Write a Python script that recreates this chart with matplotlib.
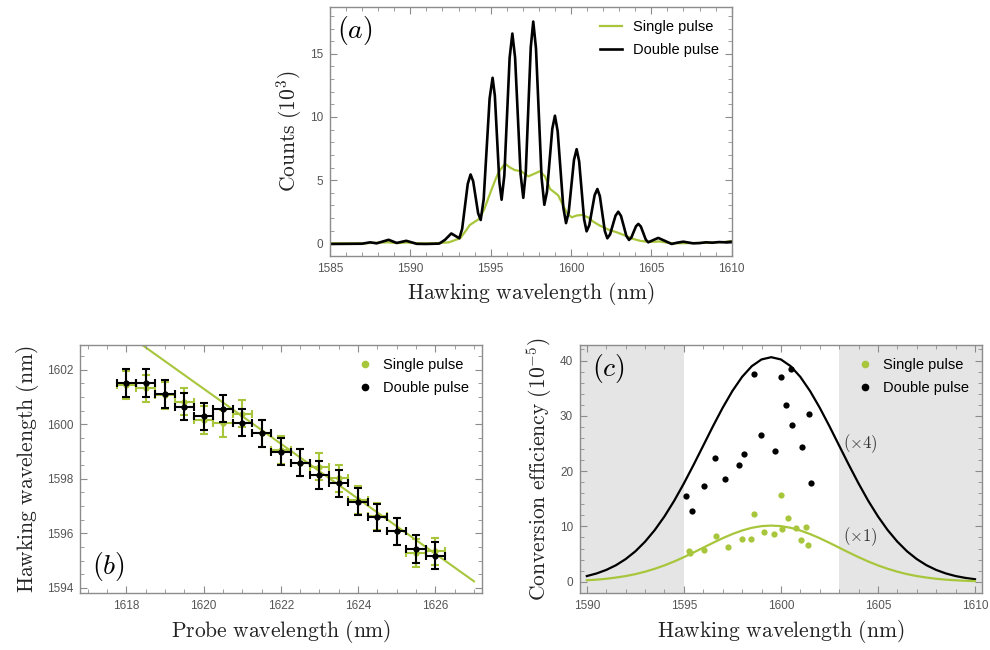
import numpy as np
import matplotlib
matplotlib.use("Agg")
import matplotlib.pyplot as plt
from matplotlib.ticker import MultipleLocator
from matplotlib.lines import Line2D

plt.rcParams['mathtext.fontset'] = 'cm'
plt.rcParams['font.family'] = ['Liberation Sans', 'DejaVu Sans']

GREEN = '#a8c63c'
SPINE = '#8c8c8c'
TICKLAB = '#555555'

# (a) spectra, Hawking wavelength (nm) vs counts (10^3)
double_x = [1585.0, 1587.0, 1587.5, 1587.9, 1588.65, 1589.15, 1589.75, 1590.4, 1591.0, 1591.8,
            1592.15, 1592.55, 1593.05, 1593.225, 1593.4, 1593.575, 1593.75, 1593.91, 1594.065, 1594.22,
            1594.38, 1594.565, 1594.75, 1594.935, 1595.12, 1595.26, 1595.40, 1595.54, 1595.68, 1595.85,
            1596.015, 1596.18, 1596.35, 1596.52, 1596.69, 1596.86, 1597.03, 1597.185, 1597.34, 1597.495,
            1597.65, 1597.82, 1597.995, 1598.17, 1598.34, 1598.505, 1598.67, 1598.835, 1599.0, 1599.17,
            1599.345, 1599.52, 1599.69, 1599.855, 1600.02, 1600.185, 1600.35, 1600.505, 1600.66, 1600.815,
            1600.97, 1601.14, 1601.305, 1601.47, 1601.64, 1601.795, 1601.95, 1602.105, 1602.26, 1602.43,
            1602.6, 1602.77, 1602.94, 1603.11, 1603.275, 1603.44, 1603.61, 1603.755, 1603.9, 1604.045,
            1604.19, 1604.345, 1604.5, 1604.655, 1604.81, 1605.12, 1605.43, 1605.85, 1606.26, 1606.6,
            1606.99, 1607.6, 1608.0, 1608.4, 1608.8, 1609.2, 1609.6, 1610.0]
double_y = [-0.05, -0.03, 0.08, 0.0, 0.28, 0.03, 0.2, -0.04, -0.05, -0.02,
            0.27, 0.78, 0.4, 1.14, 2.93, 4.71, 5.45, 4.92, 3.65, 2.38,
            1.85, 3.49, 7.48, 11.46, 13.1, 11.69, 8.28, 4.86, 3.45, 5.37,
            10.03, 14.68, 16.6, 14.7, 10.1, 5.5, 3.6, 5.64, 10.58, 15.51,
            17.55, 15.43, 10.3, 5.17, 3.05, 4.08, 6.58, 9.07, 10.1, 8.86,
            5.85, 2.84, 1.6, 2.45, 4.53, 6.6, 7.45, 6.5, 4.2, 1.9,
            0.95, 1.44, 2.63, 3.81, 4.3, 3.73, 2.35, 0.97, 0.4, 0.71,
            1.45, 2.19, 2.5, 2.17, 1.39, 0.6, 0.27, 0.46, 0.91, 1.35,
            1.54, 1.33, 0.81, 0.29, 0.08, 0.26, 0.43, 0.19, -0.05, 0.05,
            0.13, 0.0, 0.02, 0.08, 0.05, 0.1, 0.08, 0.13]

single_x = [1585.0, 1587.0, 1588.6, 1589.2, 1589.8, 1590.5, 1591.5, 1592.4, 1593.1, 1593.4,
            1593.7, 1594.3, 1594.6, 1594.95, 1595.27, 1595.5, 1595.9, 1596.2, 1596.5, 1596.9,
            1597.35, 1597.7, 1598.05, 1598.38, 1598.7, 1599.2, 1599.55, 1599.8, 1600.05, 1600.35,
            1600.7, 1601.07, 1601.4, 1601.8, 1602.3, 1602.85, 1603.4, 1603.87, 1604.3, 1604.7,
            1605.1, 1605.5, 1606.0, 1606.4, 1607.5, 1608.5, 1609.5, 1610.0]
single_y = [0.0, 0.0, 0.08, 0.02, 0.07, 0.0, 0.0, 0.08, 0.4, 0.9,
            1.45, 1.95, 2.7, 3.9, 4.96, 5.65, 6.3, 6.0, 5.8, 5.7,
            5.3, 5.5, 5.7, 5.3, 4.3, 3.8, 2.9, 2.3, 2.06, 2.2,
            2.25, 2.05, 1.7, 1.4, 1.1, 0.87, 0.6, 0.35, 0.2, 0.13,
            0.12, 0.15, 0.05, 0.0, 0.02, 0.05, 0.1, 0.17]

# (b) probe vs Hawking wavelength
probe = [1618.0, 1618.5, 1619.0, 1619.5, 1620.0, 1620.5, 1621.0, 1621.5, 1622.0,
         1622.5, 1623.0, 1623.5, 1624.0, 1624.5, 1625.0, 1625.5, 1626.0]
hw_single = [1601.43, 1601.31, 1601.06, 1600.82, 1600.15, 1600.03, 1600.39, 1599.66, 1599.05,
             1598.59, 1598.44, 1598.02, 1597.22, 1596.62, 1596.07, 1595.28, 1595.34]
hw_double = [1601.51, 1601.51, 1601.10, 1600.64, 1600.29, 1600.57, 1600.05, 1599.66, 1598.99,
             1598.59, 1598.14, 1597.83, 1597.16, 1596.58, 1596.07, 1595.42, 1595.18]
probe_err = 0.25
hw_err = 0.5
fit_x = [1617.5, 1627.0]
fit_y = [1603.82, 1594.24]

# (c) conversion efficiency (10^-5)
eff_single_x = [1595.24, 1595.32, 1596.06, 1596.63, 1597.28, 1597.98, 1598.48, 1598.60, 1599.12,
                1599.63, 1599.99, 1600.08, 1600.39, 1600.76, 1601.02, 1601.28, 1601.40]
eff_single_y = [5.55, 5.25, 5.73, 8.2, 6.33, 7.72, 7.72, 12.19, 9.05,
                8.57, 15.75, 9.53, 11.52, 9.65, 7.54, 9.95, 6.58]
eff_double_x = [1595.12, 1595.44, 1596.06, 1596.58, 1597.14, 1597.86, 1598.10, 1598.62, 1598.98,
                1599.70, 1599.99, 1600.27, 1600.51, 1600.58, 1601.09, 1601.45, 1601.54]
eff_double_y = [15.5, 12.85, 17.3, 22.3, 18.6, 21.1, 23.1, 37.6, 26.5,
                23.6, 37.0, 31.9, 38.4, 28.3, 24.3, 30.3, 17.8]
model_x = [1590.0 + 0.5 * i for i in range(41)]
model_x4 = [1.02, 1.49, 2.13, 2.98, 4.09, 5.49, 7.24, 9.34, 11.81, 14.63, 17.77, 21.13, 24.62, 28.12,
            31.46, 34.49, 37.04, 38.98, 40.19, 40.6, 40.19, 38.98, 37.04, 34.49, 31.46, 28.12, 24.62,
            21.13, 17.77, 14.63, 11.81, 9.34, 7.24, 5.49, 4.09, 2.98, 2.13, 1.49, 1.02, 0.69, 0.45]
model_x1 = [0.26, 0.37, 0.53, 0.75, 1.02, 1.37, 1.81, 2.34, 2.95, 3.66, 4.44, 5.28, 6.16, 7.03,
            7.87, 8.62, 9.26, 9.75, 10.05, 10.15, 10.05, 9.75, 9.26, 8.62, 7.87, 7.03, 6.16,
            5.28, 4.44, 3.66, 2.95, 2.34, 1.81, 1.37, 1.02, 0.75, 0.53, 0.37, 0.26, 0.17, 0.11]
shade_lo = 1595
shade_hi = 1603


def style_axes(ax, xmaj, xmin, ymaj, ymin):
	for s in ax.spines.values():
		s.set_color(SPINE)
		s.set_linewidth(1.0)
	ax.xaxis.set_major_locator(MultipleLocator(xmaj))
	ax.xaxis.set_minor_locator(MultipleLocator(xmin))
	ax.yaxis.set_major_locator(MultipleLocator(ymaj))
	ax.yaxis.set_minor_locator(MultipleLocator(ymin))
	ax.tick_params(which='both', direction='in', top=True, right=True,
	               color=SPINE, labelcolor=TICKLAB, labelsize=8.5, pad=5)
	ax.tick_params(which='major', length=5, width=0.8)
	ax.tick_params(which='minor', length=3, width=0.6)


def rm(s):
	return r'$\mathrm{' + s.replace(' ', r'\ ') + '}$'


legend_kw = dict(frameon=False, fontsize=10.5, handletextpad=0.7, labelspacing=0.6, borderaxespad=0.5)

fig = plt.figure(figsize=(9.9, 6.5), dpi=100)

# ---- (a)
ax = fig.add_axes([0.3333, 0.6062, 0.4058, 0.383])
ax.plot(single_x, single_y, color=GREEN, lw=1.6, label='Single pulse', solid_joinstyle='round')
ax.plot(double_x, double_y, color='black', lw=1.9, label='Double pulse', solid_joinstyle='round')
ax.set_xlim(1585, 1610)
ax.set_ylim(-1, 18.7)
style_axes(ax, 5, 1, 5, 1)
ax.set_xlabel(rm('Hawking wavelength (nm)'), fontsize=15.5, color='#222222')
ax.set_ylabel(r'$\mathrm{Counts\ (10^3)}$', fontsize=15.5, color='#222222')
ax.text(0.018, 0.97, r'$(a)$', transform=ax.transAxes, fontsize=20, va='top', ha='left')
ax.legend(loc='upper right', handlelength=1.55, **legend_kw)

# ---- (b)
ax = fig.add_axes([0.0808, 0.0872, 0.4058, 0.382])
ax.plot(fit_x, fit_y, color=GREEN, lw=1.5, zorder=1)
ax.errorbar(probe, hw_single, xerr=probe_err, yerr=hw_err, fmt='o', color=GREEN, ms=3.5,
            capsize=3, elinewidth=1.5, capthick=1.5, zorder=2)
ax.errorbar(probe, hw_double, xerr=probe_err, yerr=hw_err, fmt='o', color='black', ms=3.5,
            capsize=3, elinewidth=1.5, capthick=1.5, zorder=3)
ax.set_xlim(1616.8, 1627.2)
ax.set_ylim(1593.8, 1602.9)
style_axes(ax, 2, 0.5, 2, 0.5)
ax.set_xlabel(rm('Probe wavelength (nm)'), fontsize=15.5, color='#222222')
ax.set_ylabel(rm('Hawking wavelength (nm)'), fontsize=15.5, color='#222222')
ax.text(0.03, 0.04, r'$(b)$', transform=ax.transAxes, fontsize=20, va='bottom', ha='left')
handles = [Line2D([], [], ls='none', marker='o', ms=4.5, color=GREEN),
           Line2D([], [], ls='none', marker='o', ms=4.5, color='black')]
ax.legend(handles, ['Single pulse', 'Double pulse'], loc='upper right', handlelength=1.0, **legend_kw)

# ---- (c)
ax = fig.add_axes([0.5859, 0.0872, 0.4058, 0.382])
ax.set_xlim(1589.65, 1610.35)
ax.set_ylim(-2.1, 42.8)
ax.axvspan(1589.65, shade_lo, color='#e5e5e5', lw=0, zorder=0)
ax.axvspan(shade_hi, 1610.35, color='#e5e5e5', lw=0, zorder=0)
ax.plot(model_x, model_x4, color='black', lw=1.6)
ax.plot(model_x, model_x1, color=GREEN, lw=1.6)
ax.plot(eff_single_x, eff_single_y, 'o', color=GREEN, ms=4.5, mec='none')
ax.plot(eff_double_x, eff_double_y, 'o', color='black', ms=4.5, mec='none')
style_axes(ax, 5, 1, 10, 2)
ax.set_xlabel(rm('Hawking wavelength (nm)'), fontsize=15.5, color='#222222')
ax.set_ylabel(r'$\mathrm{Conversion\ efficiency\ (10^{-5})}$', fontsize=15.5, color='#222222')
ax.text(0.03, 0.97, r'$(c)$', transform=ax.transAxes, fontsize=20, va='top', ha='left')
ax.text(1603.2, 25.0, r'$(\times 4)$', fontsize=12, color='#333333', va='center')
ax.text(1603.2, 8.1, r'$(\times 1)$', fontsize=12, color='#333333', va='center')
ax.legend(handles, ['Single pulse', 'Double pulse'], loc='upper right', handlelength=1.0, **legend_kw)

fig.savefig('out.png', dpi=100)
